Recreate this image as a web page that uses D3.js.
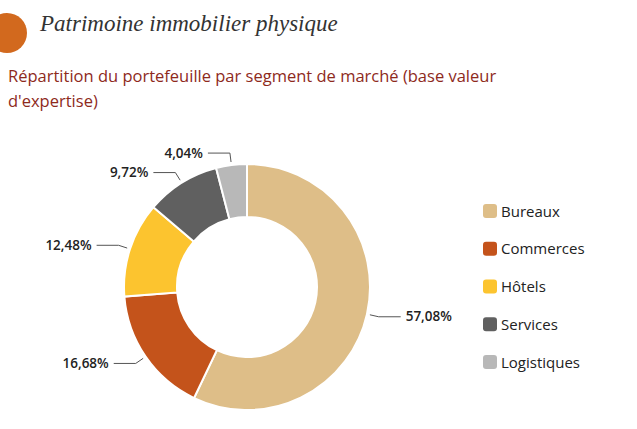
<!DOCTYPE html>
<html><head><meta charset="utf-8">
<script src="https://cdn.jsdelivr.net/npm/d3@7"></script>
<style>body{margin:0;background:#fff}</style>
</head><body>
<svg id="chart" width="637" height="429"></svg>
<script>
var segments = ['Bureaux', 'Commerces', 'Hôtels', 'Services', 'Logistiques'];
var shares = [57.08, 16.68, 12.48, 9.72, 4.04];
var colors = ['#DEBE88', '#C4531B', '#FCC42F', '#606060', '#B8B8B8'];

var svg = d3.select('#chart');

// header
svg.append('circle').attr('cx', 7).attr('cy', 33).attr('r', 20).attr('fill', '#D2691E');
svg.append('text').attr('x', 40).attr('y', 31)
  .attr('font-family', 'Liberation Serif').attr('font-style', 'italic')
  .attr('font-size', 23).attr('fill', '#333').text('Patrimoine immobilier physique');
svg.append('text').attr('x', 8).attr('y', 82)
  .attr('font-family', 'Open Sans').attr('font-size', 16.5).attr('fill', '#8E2A1C')
  .text('Répartition du portefeuille par segment de marché (base valeur');
svg.append('text').attr('x', 8).attr('y', 107)
  .attr('font-family', 'Open Sans').attr('font-size', 16.5).attr('fill', '#8E2A1C')
  .text("d'expertise)");

// donut
var cx = 247, cy = 287, R = 123, r = 70;
var pie = d3.pie().sort(null).value(function(d){ return d; });
var arcs = pie(shares);
var arc = d3.arc().innerRadius(r).outerRadius(R);
var g = svg.append('g').attr('transform', 'translate(' + cx + ',' + cy + ')');
g.selectAll('path.slice').data(arcs).enter().append('path')
  .attr('d', arc).attr('fill', function(d, i){ return colors[i]; })
  .attr('stroke', '#fff').attr('stroke-width', 2);

var fmt = function(v){ return v.toFixed(2).replace('.', ',') + '%'; };
arcs.forEach(function(d){
  var a = (d.startAngle + d.endAngle) / 2;
  var sx = Math.sin(a), sy = -Math.cos(a);
  var p0 = [(R + 3) * sx, (R + 3) * sy];
  var p1 = [(R + 12) * sx, (R + 12) * sy];
  var dir = sx >= 0 ? 1 : -1;
  var p2 = [p1[0] + dir * 22, p1[1]];
  g.append('polyline').attr('points', [p0, p1, p2].map(function(p){ return p.join(','); }).join(' '))
    .attr('fill', 'none').attr('stroke', '#555').attr('stroke-width', 1);
  g.append('text').attr('x', p2[0] + dir * 5).attr('y', p2[1] + 4.5)
    .attr('text-anchor', dir > 0 ? 'start' : 'end')
    .attr('font-family', 'Open Sans').attr('font-size', 13.5).attr('font-weight', 600).attr('fill', '#222')
    .text(fmt(d.data));
});

// legend
var ly = d3.scalePoint().domain(segments).range([211, 362]);
var leg = svg.selectAll('g.leg').data(segments).enter().append('g')
  .attr('transform', function(d){ return 'translate(483,' + ly(d) + ')'; });
leg.append('rect').attr('x', 0).attr('y', -7).attr('width', 14).attr('height', 14).attr('rx', 3)
  .attr('fill', function(d, i){ return colors[i]; });
leg.append('text').attr('x', 18).attr('y', 5.5)
  .attr('font-family', 'Open Sans').attr('font-size', 15).attr('fill', '#222')
  .text(function(d){ return d; });
</script>
</body></html>
